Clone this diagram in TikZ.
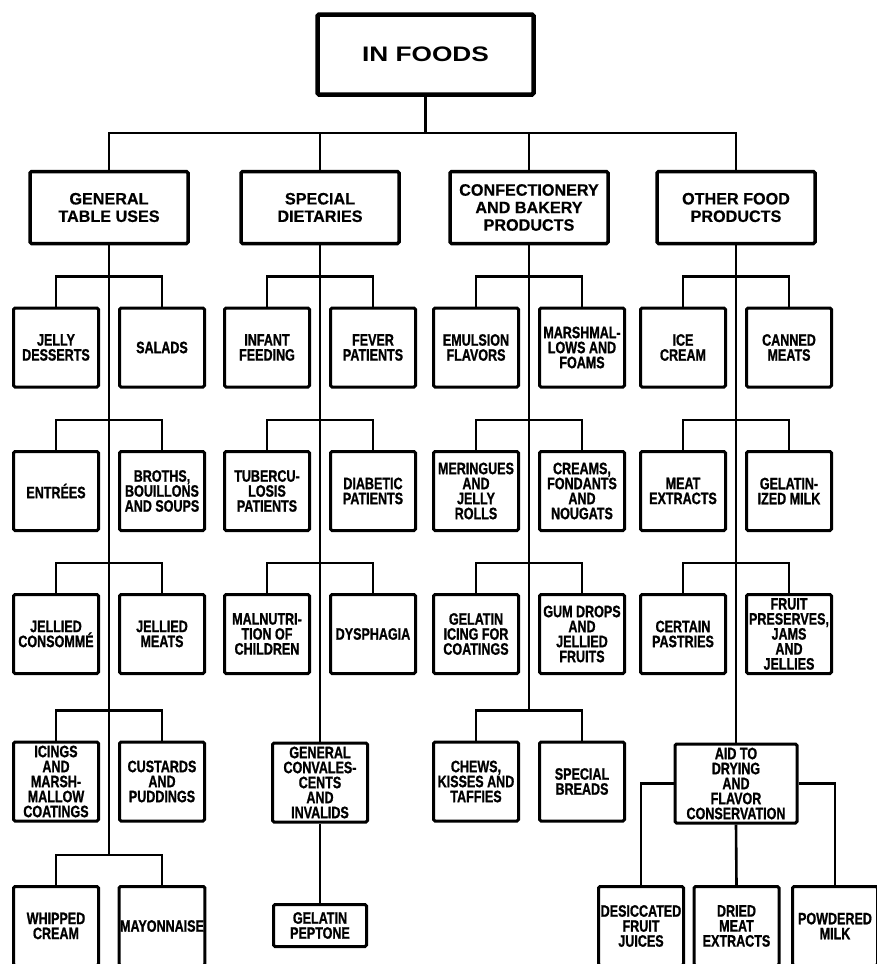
\documentclass[tikz,border=0pt]{standalone}
\usepackage{fontspec}
\setmainfont{Liberation Sans}
\newfontfamily\titlefont{Liberation Sans}[FakeStretch=1.25]
\newfontfamily\headfont{Liberation Sans}[FakeStretch=0.98, FakeBold=0.6]
\newfontfamily\boxfont{Liberation Sans}[FakeStretch=0.76, FakeBold=1]
\usepackage{tikz}
\usetikzlibrary{positioning, calc}

\begin{document}
\begin{tikzpicture}[
        x=1pt, y=1pt,
        box/.style={draw, line width=3pt, rounded corners=1.5pt,
            minimum width=#1, minimum height=79pt, inner sep=1pt,
            align=center, font=\boxfont\bfseries\fontsize{16.5}{15}\selectfont},
        box/.default=85pt,
        head/.style={draw, line width=3.5pt, rounded corners=1.5pt,
            minimum width=158pt, minimum height=72pt, inner sep=2pt,
            align=center, font=\headfont\bfseries\fontsize{16.5}{17.5}\selectfont},
        title/.style={draw, line width=4.5pt, rounded corners=1.5pt,
            minimum width=216pt, minimum height=80pt,
            font=\titlefont\bfseries\fontsize{21}{24}\selectfont},
        link/.style={line width=2.6pt},
    ]

    \useasboundingbox (0,0) rectangle (877,-964);
    \clip (0,0) rectangle (877,-964);

    % =============================================
    % TOP
    % =============================================
    \node[title] (foods) at (425.5,-54.5) {IN FOODS};
    \coordinate (bus) at (425.5,-133);

    \node[head] (gen)   at (109,-207.5) {GENERAL\\TABLE USES};
    \node[head] (diet)  at (320,-207.5) {SPECIAL\\DIETARIES};
    \node[head] (conf)  at (529,-207.5) {CONFECTIONERY\\AND BAKERY\\PRODUCTS};
    \node[head] (other) at (736,-207.5) {OTHER FOOD\\PRODUCTS};

    \draw[link] (foods) -- (bus);
    \draw[link] (gen.north) |- (bus) -| (other.north);
    \draw[link] (diet.north) -- (diet.north |- bus);
    \draw[link] (conf.north) -- (conf.north |- bus);

    % =============================================
    % GENERAL TABLE USES
    % =============================================
    \node[box] (jelly)    at (56,-347.5)  {JELLY\\DESSERTS};
    \node[box] (salads)   at (162,-347.5) {SALADS};
    \node[box] (entrees)  at (56,-491)    {ENTRÉES};
    \node[box] (broths)   at (162,-491)   {BROTHS,\\BOUILLONS\\AND SOUPS};
    \node[box] (consomme) at (56,-634)    {JELLIED\\CONSOMMÉ};
    \node[box] (jmeats)   at (162,-634)   {JELLIED\\MEATS};
    \node[box] (icings)   at (56,-781.5)  {ICINGS\\AND\\MARSH-\\MALLOW\\COATINGS};
    \node[box] (custards) at (162,-781.5) {CUSTARDS\\AND\\PUDDINGS};
    \node[box] (whipped)  at (56,-926)    {WHIPPED\\CREAM};
    \node[box] (mayo)     at (162,-926)   {MAYONNAISE};

    \coordinate (genend) at (109,-855);
    \draw[link] (gen) -- (genend);
    \draw[link] (jelly.north)    -- ++(0,30) -| (salads.north);
    \draw[link] (entrees.north)  -- ++(0,30) -| (broths.north);
    \draw[link] (consomme.north) -- ++(0,30) -| (jmeats.north);
    \draw[link] (icings.north)   -- ++(0,30) -| (custards.north);
    \draw[link] (whipped.north)  -- ++(0,30) -| (mayo.north);

    % =============================================
    % SPECIAL DIETARIES
    % =============================================
    \node[box] (infant)    at (267,-347.5) {INFANT\\FEEDING};
    \node[box] (fever)     at (373,-347.5) {FEVER\\PATIENTS};
    \node[box] (tuber)     at (267,-491)   {TUBERCU-\\LOSIS\\PATIENTS};
    \node[box] (diabetic)  at (373,-491)   {DIABETIC\\PATIENTS};
    \node[box] (malnut)    at (267,-634)   {MALNUTRI-\\TION OF\\CHILDREN};
    \node[box] (dysphagia) at (373,-634)   {DYSPHAGIA};
    \node[box=95pt] (conval) at (320,-782.5)
        {GENERAL\\CONVALES-\\CENTS\\AND\\INVALIDS};
    \node[box=93pt, minimum height=42pt] (peptone) at (320,-925.5)
        {GELATIN\\PEPTONE};

    \draw[link] (diet) -- (conval);
    \draw[link] (conval) -- (peptone);
    \draw[link] (infant.north) -- ++(0,30) -| (fever.north);
    \draw[link] (tuber.north)  -- ++(0,30) -| (diabetic.north);
    \draw[link] (malnut.north) -- ++(0,30) -| (dysphagia.north);

    % =============================================
    % CONFECTIONERY AND BAKERY PRODUCTS
    % =============================================
    \node[box] (emulsion)  at (476,-347.5) {EMULSION\\FLAVORS};
    \node[box] (marsh)     at (582,-347.5) {MARSHMAL-\\LOWS AND\\FOAMS};
    \node[box] (meringues) at (476,-491)   {MERINGUES\\AND\\JELLY\\ROLLS};
    \node[box] (creams)    at (582,-491)   {CREAMS,\\FONDANTS\\AND\\NOUGATS};
    \node[box] (icing)     at (476,-634)   {GELATIN\\ICING FOR\\COATINGS};
    \node[box] (gumdrops)  at (582,-634)   {GUM DROPS\\AND\\JELLIED\\FRUITS};
    \node[box] (chews)     at (476,-781.5) {CHEWS,\\KISSES AND\\TAFFIES};
    \node[box] (breads)    at (582,-781.5) {SPECIAL\\BREADS};

    \coordinate (confend) at (529,-710);
    \draw[link] (conf) -- (confend);
    \draw[link] (emulsion.north)  -- ++(0,30) -| (marsh.north);
    \draw[link] (meringues.north) -- ++(0,30) -| (creams.north);
    \draw[link] (icing.north)     -- ++(0,30) -| (gumdrops.north);
    \draw[link] (chews.north)     -- ++(0,30) -| (breads.north);

    % =============================================
    % OTHER FOOD PRODUCTS
    % =============================================
    \node[box] (icecream)  at (683,-347.5) {ICE\\CREAM};
    \node[box] (canned)    at (789,-347.5) {CANNED\\MEATS};
    \node[box] (mextracts) at (683,-491)   {MEAT\\EXTRACTS};
    \node[box] (gelmilk)   at (789,-491)   {GELATIN-\\IZED MILK};
    \node[box] (pastries)  at (683,-634)   {CERTAIN\\PASTRIES};
    \node[box] (preserves) at (789,-634)   {FRUIT\\PRESERVES,\\JAMS\\AND\\JELLIES};
    \node[box=122pt] (aid) at (736,-783.5)
        {AID TO\\DRYING\\AND\\FLAVOR\\CONSERVATION};
    \node[box] (desiccated) at (641,-926)   {DESICCATED\\FRUIT\\JUICES};
    \node[box] (dried)      at (736.5,-926) {DRIED\\MEAT\\EXTRACTS};
    \node[box] (powdered)   at (835,-926)   {POWDERED\\MILK};

    \draw[link] (other) -- (aid);
    \draw[link] (icecream.north)  -- ++(0,30) -| (canned.north);
    \draw[link] (mextracts.north) -- ++(0,30) -| (gelmilk.north);
    \draw[link] (pastries.north)  -- ++(0,30) -| (preserves.north);
    \draw[link] (aid.west)  -| (desiccated.north);
    \draw[link] (aid.south) -- (dried.north);
    \draw[link] (aid.east)  -| (powdered.north);

\end{tikzpicture}
\end{document}
